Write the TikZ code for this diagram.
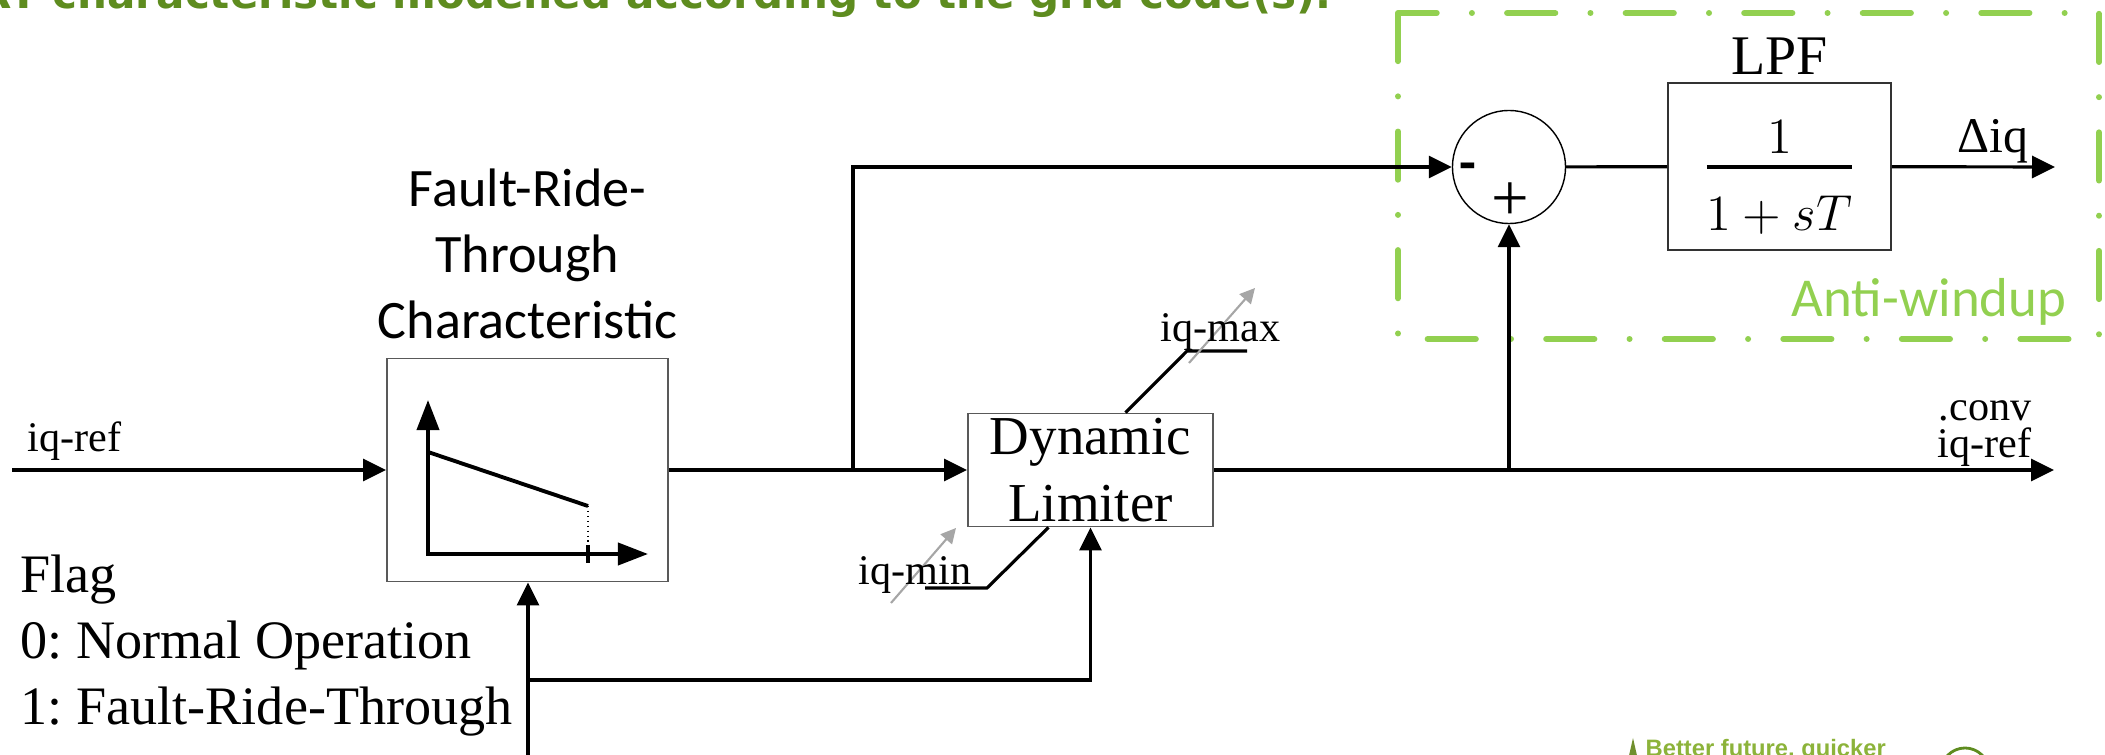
\documentclass[tikz,border=0pt]{standalone}
\usepackage{amsmath}
\usepackage{fontspec}
\setmainfont{Liberation Serif}
\newfontfamily\calfont{Carlito}
\newfontfamily\headfont{DejaVu Sans}
\newfontfamily\footfont{Liberation Sans}
\usetikzlibrary{arrows.meta,positioning,calc}
\definecolor{awgreen}{HTML}{92D050}
\definecolor{headgreen}{HTML}{5E8C1F}
\definecolor{footgreen}{HTML}{8CB33A}
\frenchspacing

\begin{document}
\begin{tikzpicture}[
  x=0.01cm, y=-0.01cm,
  box/.style={draw=black!65, line width=0.5pt, inner sep=0pt, align=center},
  wire/.style={line width=0.9pt},
  arrow/.style={-{Triangle[length=0.23cm,width=0.22cm]}, line width=0.9pt},
  axis/.style={{Triangle[length=0.3cm,width=0.22cm]}-{Triangle[length=0.3cm,width=0.22cm]}, line width=1.1pt},
  adj/.style={-{Triangle[length=0.15cm,width=0.15cm]}, draw=black!35, line width=0.6pt},
  sig/.style={font=\fontsize{12}{14}\selectfont, inner sep=0pt}
]
\useasboundingbox (0,0) rectangle (2105,755);
\clip (0,0) rectangle (2105,755);

\node[anchor=base east, text=headgreen, font=\headfont\bfseries\fontsize{11.95}{15}\selectfont, inner sep=0pt] (head) at (1332,9) {FRT characteristic modelled according to the grid code(s).};

\draw[awgreen, line width=1.7pt, line cap=round, dash pattern=on 13.7pt off 10pt on 0.01pt off 10pt] (1398,13) rectangle (2099,339);
\node[anchor=base east, text=awgreen, font=\calfont\fontsize{15.6}{19}\selectfont, inner sep=0pt] (awlabel) at (2067,317) {Anti-windup};

\node[box, minimum width=2.81cm, minimum height=2.23cm] (frt) at (527.5,470) {};
\node[above=0.18cm of frt, inner sep=0pt, align=center, font=\calfont\fontsize{15.4}{18.8}\selectfont] (frttitle) {Fault-Ride-\\Through\\Characteristic};
\draw[axis] (428,400) -- (428,554) -- (648,554);
\draw[line width=1.1pt] (428,452) -- (588,506);
\draw[densely dotted, line width=0.4pt] (588,506) -- (588,554);
\draw[line width=1.1pt] (588,545) -- (588,563);

\node[box, minimum width=2.45cm, minimum height=1.13cm, font=\fontsize{15.6}{19}\selectfont] (lim) at (1090.5,470) {Dynamic\\Limiter};

\node[circle, draw, line width=0.4pt, minimum size=1.13cm, inner sep=0pt] (sum) at (1509,167) {};
\node[inner sep=0pt, font=\calfont\bfseries\fontsize{15.6}{19}\selectfont] (sgnminus) at (1468,172) {-};
\node[inner sep=0pt, font=\fontsize{19}{22}\selectfont] (sgnplus) at (1510,202) {+};

\node[box, draw=black!80, minimum width=2.23cm, minimum height=1.67cm, font=\fontsize{14.8}{17}\selectfont] (lpf) at (1779.5,166.5)
  {\raisebox{-0.13cm}[0pt][0pt]{$\genfrac{}{}{1.1pt}{0}{\raisebox{-0.1cm}{$1$}}{\raisebox{-0.16cm}{$1+sT$}}$}};
\node[above=0.07cm of lpf, inner sep=0pt, font=\fontsize{15.9}{19}\selectfont] (lpflabel) {LPF};

\coordinate (iqin) at (12,470);
\coordinate (jfb) at (853,470);
\coordinate (jaw) at (1509,470);
\coordinate (iqout) at (2054,470);
\coordinate (dout) at (2055,167);
\coordinate (flag) at (528,760);
\coordinate (fork) at (528,680);

\draw[arrow] (iqin) -- (frt);
\draw[arrow] (frt) -- (lim);
\draw[arrow] (jfb) |- (sum);
\draw[arrow] (lim) -- (iqout);
\draw[arrow] (jaw) -- (sum);
\draw[wire] (sum) -- (lpf);
\draw[arrow] (lpf) -- (dout);
\draw[arrow] (flag) -- (flag |- frt.south);
\draw[arrow] (fork) -| (lim);

\draw[wire] ([xshift=0.35cm]lim.north) -- (1187,351) -- (1247,351);
\draw[wire] ([xshift=-0.42cm]lim.south) -- (987,588) -- (925,588);
\draw[adj] (1189,363) -- (1255,288);
\draw[adj] (891,603) -- (956,528);

\node[sig, anchor=base west] (lblin) at (27,452) {iq-ref};
\node[sig, anchor=base east] (lblconv) at (2032,421) {.conv};
\node[sig, anchor=base east] (lblout) at (2032,458) {iq-ref};
\node[sig, anchor=base west] (lblmax) at (1160,342) {iq-max};
\node[sig, anchor=base west] (lblmin) at (858,585) {iq-min};
\node[anchor=base west, inner sep=0pt, font=\fontsize{14.2}{17}\selectfont] (lbldelta) at (1957,153) {Δiq};

\node[anchor=south west, align=left, inner sep=0pt, font=\fontsize{15.4}{18.8}\selectfont] (flagtxt) at (20,737) {Flag\\0: Normal Operation\\1: Fault-Ride-Through};

\node[anchor=base west, text=footgreen, font=\footfont\bfseries\fontsize{6.75}{8}\selectfont, inner sep=0pt] (foot) at (1645,757) {Better future, quicker};
\fill[footgreen!80!black] (1628,760) -- (1633,738) -- (1638,760) -- cycle;
\draw[headgreen, line width=0.8pt] (1965,772) circle (0.24cm);
\end{tikzpicture}
\end{document}
